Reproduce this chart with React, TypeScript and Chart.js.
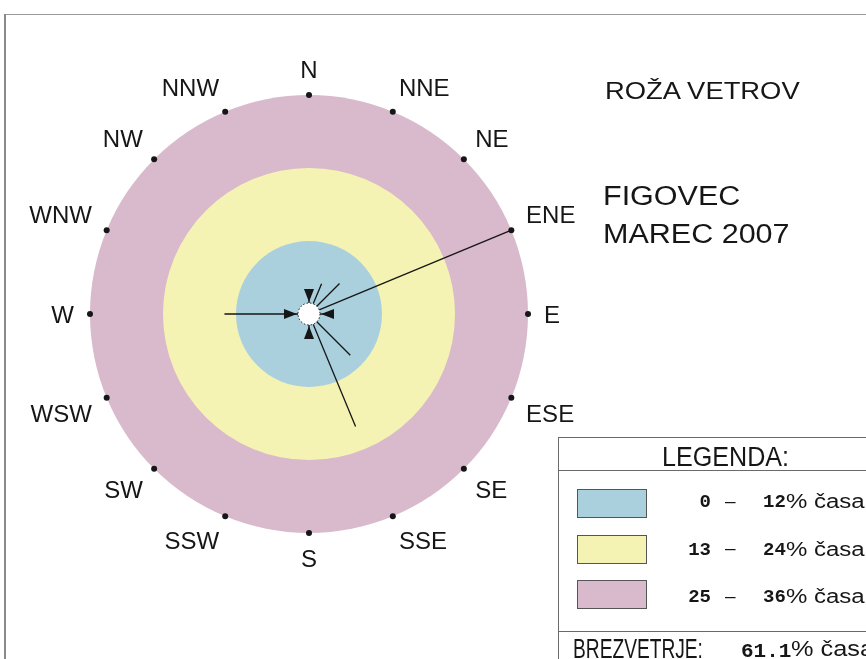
import React, { useEffect, useRef } from "react";
import { Chart, registerables } from "chart.js";

Chart.register(...registerables);

// ---------- data ----------
const DIRECTIONS = ["N", "NNE", "NE", "ENE", "E", "ESE", "SE", "SSE", "S", "SSW", "SW", "WSW", "W", "WNW", "NW", "NNW"];
const WIND_FREQ = [3.5, 5.4, 7.1, 35.8, 3.5, 0, 9.6, 20, 3.5, 0, 0, 0, 13.9, 0, 0, 0];
const RING_LOW = [0, 13, 25];
const RING_HIGH = [12, 24, 36];
const RING_COLORS = ["#aad0de", "#f5f3b4", "#d9b9cc"];
const CALM_PERCENT = "61.1";
const TITLE = "ROŽA VETROV";
const STATION = "FIGOVEC";
const PERIOD = "MAREC 2007";
const LEGEND_TITLE = "LEGENDA:";
const CALM_LABEL = "BREZVETRJE:";
const UNIT = "% časa";

// ---------- styles ----------
const SANS = '"Liberation Sans", Arial, sans-serif';
const MONO = '"Liberation Mono", "Courier New", monospace';
const CALM_RADIUS = 11;
const LABEL_SIZE = 24;
const INK = "#161616";

const windRosePlugin = {
  id: "windRose",
  beforeDatasetsDraw(chart: any) {
    const r = chart.scales.r;
    const ctx = chart.ctx;
    ctx.save();
    for (let i = RING_HIGH.length - 1; i >= 0; i--) {
      ctx.beginPath();
      ctx.arc(r.xCenter, r.yCenter, r.getDistanceFromCenterForValue(RING_HIGH[i]), 0, Math.PI * 2);
      ctx.fillStyle = RING_COLORS[i];
      ctx.fill();
    }
    ctx.restore();
  },
  afterDatasetsDraw(chart: any) {
    const r = chart.scales.r;
    const ctx = chart.ctx;
    ctx.save();
    ctx.strokeStyle = INK;
    ctx.lineWidth = 1.3;
    WIND_FREQ.forEach((v, i) => {
      if (v <= 0) return;
      const a = r.getPointPosition(i, CALM_RADIUS);
      const b = r.getPointPositionForValue(i, v);
      ctx.beginPath();
      ctx.moveTo(a.x, a.y);
      ctx.lineTo(b.x, b.y);
      ctx.stroke();
    });
    // calm circle
    ctx.beginPath();
    ctx.arc(r.xCenter, r.yCenter, CALM_RADIUS, 0, Math.PI * 2);
    ctx.fillStyle = "#ffffff";
    ctx.fill();
    ctx.setLineDash([1.5, 2]);
    ctx.lineWidth = 1;
    ctx.strokeStyle = INK;
    ctx.stroke();
    ctx.setLineDash([]);
    // arrowheads on cardinal directions
    WIND_FREQ.forEach((v, i) => {
      if (i % 4 !== 0 || v <= 0) return;
      const tip = r.getPointPosition(i, CALM_RADIUS + 1);
      const base = r.getPointPosition(i, CALM_RADIUS + 14);
      const ang = tip.angle;
      const px = -Math.sin(ang);
      const py = Math.cos(ang);
      ctx.beginPath();
      ctx.moveTo(tip.x, tip.y);
      ctx.lineTo(base.x + px * 5, base.y + py * 5);
      ctx.lineTo(base.x - px * 5, base.y - py * 5);
      ctx.closePath();
      ctx.fillStyle = INK;
      ctx.fill();
    });
    ctx.restore();
  },
  afterDraw(chart: any) {
    const r = chart.scales.r;
    const ctx = chart.ctx;
    ctx.save();
    ctx.font = `${LABEL_SIZE}px ${SANS}`;
    ctx.fillStyle = INK;
    ctx.textAlign = "center";
    ctx.textBaseline = "alphabetic";
    const hh = (LABEL_SIZE * 0.716) / 2;
    DIRECTIONS.forEach((lab, i) => {
      const p = r.getPointPosition(i, r.drawingArea + 16);
      const th = r.getIndexAngle(i);
      const s = Math.sin(th);
      const c = Math.cos(th);
      const w = ctx.measureText(lab).width;
      const dx = Math.abs(s) < 1e-6 ? 0 : Math.sign(s) * (w / 2);
      const dy = Math.abs(c) < 1e-6 ? 0 : -Math.sign(c) * (hh + 1);
      ctx.fillText(lab, p.x + dx, p.y + dy + hh);
    });
    ctx.restore();
  },
};

type TxtProps = {
  x: number;
  base: number;
  size: number;
  mono?: boolean;
  bold?: boolean;
  sx?: number;
  align?: "left" | "right";
  children: React.ReactNode;
};

function Txt({ x, base, size, mono, bold, sx = 1, align = "left", children }: TxtProps) {
  const top = base - (mono ? 0.7665 : 0.8465) * size;
  const style: React.CSSProperties = {
    position: "absolute",
    top,
    whiteSpace: "nowrap",
    fontFamily: mono ? MONO : SANS,
    fontSize: size,
    lineHeight: `${size}px`,
    fontWeight: bold ? 700 : 400,
    color: INK,
    transform: sx !== 1 ? `scaleX(${sx})` : undefined,
    transformOrigin: align === "right" ? "right center" : "left center",
  };
  if (align === "right") style.right = 866 - x;
  else style.left = x;
  return <div style={style}>{children}</div>;
}

export default function App() {
  const canvasRef = useRef<HTMLCanvasElement | null>(null);

  useEffect(() => {
    const canvas = canvasRef.current;
    if (!canvas) return;
    const outer = RING_HIGH[RING_HIGH.length - 1];
    const chart = new Chart(canvas, {
      type: "radar",
      data: {
        labels: DIRECTIONS,
        datasets: [
          {
            label: "smeri",
            data: DIRECTIONS.map(() => outer),
            showLine: false,
            borderWidth: 0,
            borderColor: "transparent",
            backgroundColor: "transparent",
            fill: false,
            pointRadius: 3,
            pointBackgroundColor: INK,
            pointBorderWidth: 0,
          },
          {
            label: "veter",
            data: WIND_FREQ,
            showLine: false,
            borderWidth: 0,
            borderColor: "transparent",
            backgroundColor: "transparent",
            fill: false,
            pointRadius: 0,
          },
        ],
      },
      options: {
        responsive: false,
        animation: false,
        devicePixelRatio: 1,
        events: [],
        layout: { padding: { left: 90, top: 95, right: 338, bottom: 126 } },
        plugins: {
          legend: { display: false },
          tooltip: { enabled: false },
          title: { display: false },
        },
        scales: {
          r: {
            min: 0,
            max: outer,
            startAngle: 0,
            ticks: { display: false },
            grid: { display: false },
            angleLines: { display: false },
            pointLabels: { display: false },
          },
        },
      } as any,
      plugins: [windRosePlugin],
    });
    return () => chart.destroy();
  }, []);

  const swatchTop = [489, 534.5, 580];
  const rowBase = [508, 555.5, 603];

  return (
    <div
      style={{
        position: "absolute",
        left: 0,
        top: 0,
        width: 866,
        height: 659,
        overflow: "hidden",
        background: "#ffffff",
      }}
    >
      <canvas
        ref={canvasRef}
        width={866}
        height={659}
        style={{ position: "absolute", left: 0, top: 0, width: 866, height: 659 }}
      />
      {/* frame */}
      <div style={{ position: "absolute", left: 4, top: 14, width: 862, height: 1, background: "#9a9a9a" }} />
      <div style={{ position: "absolute", left: 4, top: 14, width: 2, height: 645, background: "#8a8a8a" }} />

      {/* titles */}
      <Txt x={605} base={99.3} size={23} sx={1.19}>{TITLE}</Txt>
      <Txt x={603} base={205.7} size={27} sx={1.13}>{STATION}</Txt>
      <Txt x={603} base={244} size={27} sx={1.13}>{PERIOD}</Txt>

      {/* legend box */}
      <div
        style={{
          position: "absolute",
          left: 558,
          top: 437,
          width: 400,
          height: 300,
          border: "1px solid #6a6a6a",
          boxSizing: "border-box",
        }}
      />
      <div style={{ position: "absolute", left: 558, top: 470, width: 308, height: 1, background: "#6a6a6a" }} />
      <div style={{ position: "absolute", left: 558, top: 631, width: 308, height: 1, background: "#6a6a6a" }} />
      <Txt x={662} base={467} size={27} sx={0.93}>{LEGEND_TITLE}</Txt>

      {RING_LOW.map((lo, i) => (
        <React.Fragment key={i}>
          <div
            style={{
              position: "absolute",
              left: 577,
              top: swatchTop[i],
              width: 70,
              height: 29,
              background: RING_COLORS[i],
              border: "1px solid #555",
              boxSizing: "border-box",
            }}
          />
          <Txt x={711} base={rowBase[i]} size={19} mono bold align="right">{String(lo)}</Txt>
          <Txt x={725} base={rowBase[i] - 1} size={19}>–</Txt>
          <Txt x={763} base={rowBase[i]} size={19} mono bold>{String(RING_HIGH[i])}</Txt>
          <Txt x={786} base={rowBase[i]} size={20} sx={1.2}>{UNIT}</Txt>
        </React.Fragment>
      ))}

      <Txt x={573} base={659} size={27} sx={0.71}>{CALM_LABEL}</Txt>
      <Txt x={741} base={657} size={21} mono bold>{CALM_PERCENT}</Txt>
      <Txt x={791} base={657} size={22} sx={1.15}>{UNIT}</Txt>
    </div>
  );
}
